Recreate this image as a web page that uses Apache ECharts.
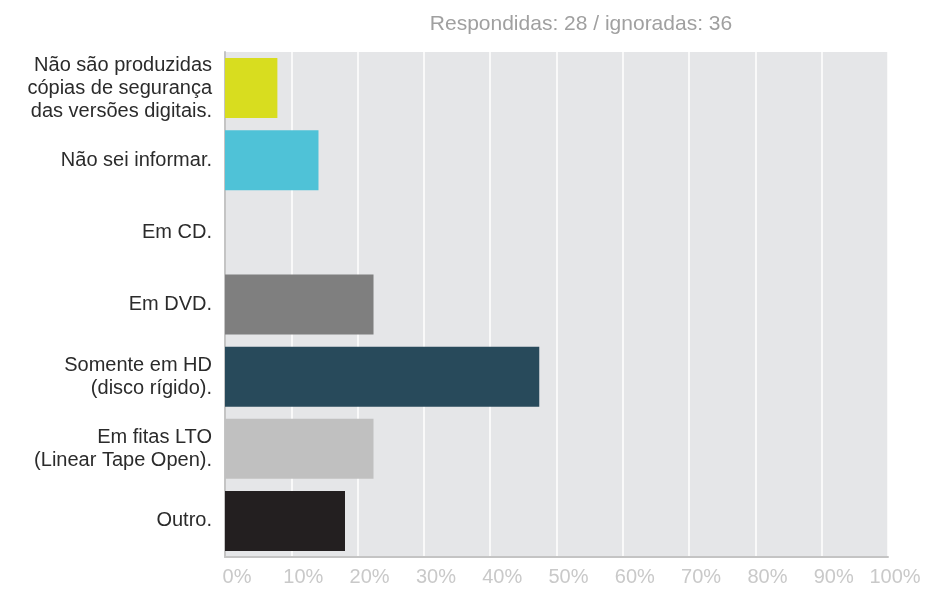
<!DOCTYPE html>
<html>
<head>
<meta charset="utf-8">
<script src="https://cdn.jsdelivr.net/npm/echarts@6/dist/echarts.min.js"></script>
<style>
  html, body { margin: 0; padding: 0; background: #fff; }
  #chart { width: 925px; height: 589px; }
</style>
</head>
<body>
<div id="chart"></div>
<script>
// Answer options, top to bottom
const categories = [
  'Não são produzidas\ncópias de segurança\ndas versões digitais.',
  'Não sei informar.',
  'Em CD.',
  'Em DVD.',
  'Somente em HD\n(disco rígido).',
  'Em fitas LTO\n(Linear Tape Open).',
  'Outro.'
];
// Share of respondents per option (%)
const percentages = [7.9, 14.1, 0, 22.4, 47.4, 22.4, 18.1];
const barColors = ['#d8dd1f', '#4fc2d7', '#e5e6e8', '#7f7f7f', '#284a5b', '#c0c0c0', '#231f20'];
const tickLabels = ['0%', '10%', '20%', '30%', '40%', '50%', '60%', '70%', '80%', '90%', '100%'];
const summaryText = 'Respondidas: 28 / ignoradas: 36';

const FONT = "'Liberation Sans', Arial, Helvetica, sans-serif";

const chart = echarts.init(document.getElementById('chart'));
chart.setOption({
  animation: false,
  textStyle: { fontFamily: FONT },
  title: {
    text: summaryText,
    left: 576,
    top: 9,
    textAlign: 'center',
    textStyle: { color: '#a0a0a0', fontSize: 21, fontWeight: 'normal', fontFamily: FONT }
  },
  grid: {
    left: 225, right: 37, top: 52, bottom: 32,
    show: true, backgroundColor: '#e5e6e8', borderWidth: 0
  },
  xAxis: {
    type: 'value', min: 0, max: 100, interval: 10,
    axisLine: { show: true, lineStyle: { color: '#c4c4c4', width: 2 } },
    axisTick: { show: false },
    splitLine: { show: true, lineStyle: { color: '#ffffff', width: 1.5 } },
    axisLabel: {
      color: '#c9c9c9', fontSize: 20, margin: 10, fontFamily: FONT,
      // tick labels sit a little to the right of their gridlines
      formatter: v => {
        const i = Math.round(v / 10);
        return (i === 10 ? '{e|' : '{t|') + tickLabels[i] + '}';
      },
      rich: {
        t: { color: '#c9c9c9', fontSize: 20, fontFamily: FONT, padding: [0, 0, 0, 24] },
        e: { color: '#c9c9c9', fontSize: 20, fontFamily: FONT, padding: [0, 0, 0, 14] }
      }
    }
  },
  yAxis: {
    type: 'category', inverse: true, data: categories,
    axisLine: { show: true, lineStyle: { color: '#c4c4c4', width: 2 } },
    axisTick: { show: false },
    axisLabel: {
      color: '#2b2b2b', fontSize: 20, lineHeight: 23, margin: 13,
      align: 'right', fontFamily: FONT
    }
  },
  series: [{
    type: 'bar',
    data: percentages.map((v, i) => ({ value: v, itemStyle: { color: barColors[i] } })),
    barWidth: 60
  }]
});
</script>
</body>
</html>
